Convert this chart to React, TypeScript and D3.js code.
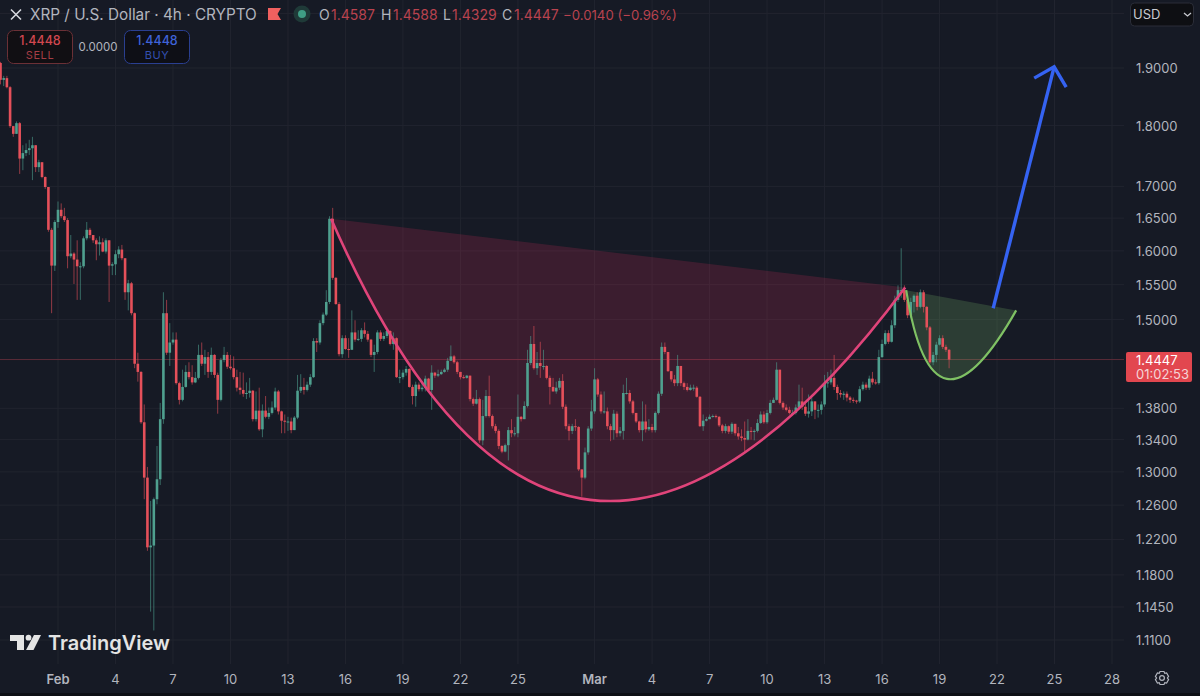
import React from "react";
import * as d3 from "d3";

// ---- OHLC data, 4h candles starting 29 Jan 00:00 UTC ----
const firstOpen = 1.909;
const closes = [
1.879,1.882,1.866,1.799,1.786,1.804,1.745,1.754,1.759,1.762,1.767,1.731,1.739,1.715,1.699,1.632,1.578,1.644,1.663,1.653,
1.647,1.592,1.596,1.587,1.577,1.577,1.619,1.632,1.624,1.616,1.610,1.613,1.599,1.616,1.578,1.580,1.595,1.602,1.589,1.539,
1.552,1.509,1.439,1.428,1.362,1.293,1.211,1.213,1.267,1.291,1.366,1.509,1.454,1.468,1.472,1.413,1.391,1.408,1.428,1.421,
1.414,1.420,1.451,1.439,1.448,1.428,1.451,1.424,1.391,1.444,1.451,1.435,1.433,1.421,1.407,1.404,1.399,1.400,1.403,1.366,
1.377,1.353,1.377,1.369,1.374,1.381,1.402,1.376,1.364,1.363,1.363,1.352,1.368,1.403,1.408,1.404,1.411,1.421,1.470,1.468,
1.495,1.507,1.525,1.649,1.560,1.522,1.452,1.474,1.459,1.458,1.482,1.472,1.473,1.485,1.480,1.472,1.451,1.455,1.482,1.473,
1.477,1.484,1.466,1.474,1.421,1.421,1.427,1.432,1.408,1.396,1.411,1.405,1.407,1.419,1.404,1.427,1.423,1.425,1.428,1.431,
1.443,1.449,1.441,1.428,1.421,1.420,1.423,1.392,1.386,1.392,1.339,1.370,1.396,1.370,1.357,1.351,1.332,1.325,1.333,1.352,
1.348,1.348,1.369,1.366,1.383,1.440,1.466,1.433,1.440,1.436,1.436,1.420,1.408,1.402,1.407,1.416,1.382,1.357,1.351,1.357,
1.356,1.303,1.293,1.324,1.354,1.376,1.418,1.398,1.376,1.376,1.357,1.352,1.373,1.348,1.351,1.400,1.400,1.389,1.374,1.363,
1.352,1.363,1.353,1.356,1.352,1.374,1.399,1.462,1.455,1.429,1.418,1.413,1.436,1.413,1.408,1.404,1.407,1.407,1.395,1.357,
1.364,1.366,1.369,1.370,1.369,1.358,1.351,1.357,1.350,1.360,1.348,1.344,1.342,1.340,1.351,1.350,1.351,1.361,1.372,1.362,
1.374,1.387,1.391,1.431,1.387,1.381,1.378,1.374,1.374,1.381,1.389,1.382,1.373,1.376,1.389,1.378,1.378,1.385,1.413,1.414,
1.420,1.408,1.400,1.398,1.399,1.394,1.391,1.390,1.389,1.405,1.411,1.407,1.419,1.414,1.413,1.448,1.466,1.481,1.469,1.492,
1.528,1.542,1.542,1.528,1.506,1.525,1.534,1.518,1.539,1.518,1.489,1.441,1.451,1.465,1.474,1.462,1.458,1.4447];
const highs = [
1.911,1.886,1.886,1.868,1.799,1.807,1.806,1.767,1.770,1.776,1.781,1.767,1.743,1.739,1.716,1.699,1.635,1.647,1.676,1.673,
1.666,1.650,1.624,1.598,1.616,1.583,1.622,1.644,1.635,1.624,1.619,1.622,1.619,1.619,1.616,1.583,1.601,1.607,1.609,1.589,
1.557,1.554,1.510,1.454,1.429,1.385,1.306,1.265,1.269,1.332,1.387,1.539,1.528,1.495,1.482,1.482,1.415,1.431,1.437,1.441,
1.437,1.428,1.465,1.468,1.458,1.455,1.461,1.452,1.427,1.447,1.462,1.455,1.451,1.449,1.431,1.428,1.427,1.414,1.420,1.404,
1.402,1.407,1.385,1.396,1.381,1.389,1.407,1.404,1.377,1.372,1.369,1.368,1.370,1.424,1.425,1.420,1.415,1.425,1.474,1.474,
1.499,1.510,1.542,1.653,1.666,1.561,1.525,1.478,1.478,1.474,1.513,1.499,1.485,1.488,1.496,1.484,1.473,1.465,1.485,1.485,
1.482,1.488,1.485,1.482,1.475,1.431,1.431,1.436,1.433,1.411,1.415,1.414,1.415,1.423,1.420,1.437,1.428,1.431,1.431,1.433,
1.447,1.464,1.451,1.443,1.428,1.424,1.424,1.423,1.394,1.404,1.394,1.391,1.404,1.423,1.372,1.360,1.353,1.333,1.335,1.356,
1.366,1.356,1.398,1.370,1.389,1.458,1.477,1.491,1.455,1.469,1.458,1.437,1.423,1.420,1.415,1.420,1.425,1.385,1.360,1.360,
1.366,1.357,1.303,1.330,1.357,1.391,1.433,1.420,1.402,1.402,1.381,1.360,1.378,1.376,1.356,1.411,1.420,1.404,1.391,1.374,
1.364,1.389,1.385,1.366,1.360,1.376,1.402,1.468,1.468,1.455,1.429,1.424,1.451,1.436,1.415,1.413,1.411,1.411,1.409,1.396,
1.372,1.369,1.372,1.372,1.372,1.370,1.360,1.360,1.358,1.362,1.360,1.356,1.353,1.363,1.366,1.356,1.353,1.366,1.376,1.376,
1.378,1.391,1.394,1.441,1.431,1.389,1.385,1.382,1.378,1.385,1.411,1.407,1.389,1.398,1.394,1.389,1.385,1.389,1.424,1.428,
1.431,1.451,1.411,1.404,1.402,1.402,1.396,1.394,1.391,1.409,1.415,1.414,1.423,1.428,1.418,1.458,1.472,1.485,1.485,1.499,
1.534,1.549,1.604,1.549,1.534,1.531,1.536,1.539,1.543,1.542,1.519,1.491,1.455,1.469,1.478,1.478,1.465,1.4588];
const lows = [
1.871,1.868,1.864,1.796,1.781,1.786,1.720,1.726,1.749,1.751,1.710,1.723,1.723,1.713,1.696,1.629,1.509,1.570,1.635,1.650,
1.644,1.574,1.589,1.551,1.528,1.528,1.574,1.616,1.619,1.612,1.586,1.593,1.598,1.596,1.525,1.564,1.564,1.589,1.586,1.528,
1.513,1.506,1.433,1.415,1.360,1.267,1.207,1.140,1.120,1.261,1.284,1.360,1.451,1.436,1.465,1.411,1.385,1.389,1.407,1.418,
1.411,1.413,1.418,1.436,1.424,1.420,1.424,1.420,1.373,1.389,1.441,1.432,1.431,1.418,1.402,1.398,1.395,1.392,1.394,1.363,
1.363,1.351,1.343,1.367,1.366,1.372,1.378,1.372,1.348,1.348,1.351,1.348,1.352,1.366,1.400,1.398,1.402,1.408,1.420,1.455,
1.465,1.492,1.505,1.522,1.557,1.521,1.449,1.447,1.458,1.447,1.458,1.469,1.470,1.469,1.475,1.469,1.448,1.428,1.452,1.470,
1.470,1.474,1.464,1.458,1.420,1.413,1.418,1.423,1.407,1.385,1.382,1.402,1.402,1.402,1.402,1.378,1.420,1.421,1.424,1.427,
1.428,1.443,1.439,1.425,1.418,1.419,1.419,1.389,1.383,1.385,1.336,1.333,1.368,1.368,1.354,1.348,1.328,1.323,1.324,1.314,
1.343,1.344,1.343,1.363,1.366,1.381,1.437,1.431,1.424,1.420,1.431,1.418,1.385,1.402,1.399,1.404,1.379,1.353,1.339,1.347,
1.351,1.301,1.270,1.291,1.321,1.351,1.373,1.395,1.373,1.373,1.353,1.338,1.340,1.343,1.344,1.340,1.398,1.386,1.372,1.361,
1.349,1.338,1.349,1.351,1.349,1.349,1.372,1.396,1.452,1.428,1.415,1.409,1.409,1.409,1.404,1.402,1.403,1.403,1.394,1.356,
1.351,1.363,1.366,1.368,1.367,1.356,1.348,1.348,1.347,1.347,1.345,1.340,1.338,1.325,1.339,1.340,1.339,1.349,1.360,1.360,
1.360,1.372,1.387,1.390,1.385,1.378,1.376,1.372,1.372,1.372,1.378,1.378,1.370,1.368,1.370,1.366,1.368,1.372,1.382,1.407,
1.411,1.404,1.391,1.394,1.391,1.389,1.387,1.387,1.386,1.387,1.403,1.404,1.404,1.411,1.411,1.411,1.447,1.464,1.466,1.468,
1.488,1.525,1.531,1.525,1.502,1.502,1.510,1.513,1.516,1.510,1.485,1.439,1.437,1.441,1.464,1.459,1.455,1.4329];

// ---- Axes ----
const priceTicks = [1.9, 1.8, 1.7, 1.65, 1.6, 1.55, 1.5, 1.38, 1.34, 1.3, 1.26, 1.22, 1.18, 1.145, 1.11];
const extraGridPrices = [2.0];
const dayTicks: [number, number, string, boolean][] = [
  [1, 1, "Feb", true], [1, 4, "4", false], [1, 7, "7", false], [1, 10, "10", false], [1, 13, "13", false],
  [1, 16, "16", false], [1, 19, "19", false], [1, 22, "22", false], [1, 25, "25", false],
  [2, 1, "Mar", true], [2, 4, "4", false], [2, 7, "7", false], [2, 10, "10", false], [2, 13, "13", false],
  [2, 16, "16", false], [2, 19, "19", false], [2, 22, "22", false], [2, 25, "25", false], [2, 28, "28", false],
];

// ---- Drawings: start, bezier control and end (days after 1 Feb, price) ----
const cupDays = [14.25, 26.3, 44.21];
const cupPrices = [1.649, 1.0042, 1.546];
const handleDays = [44.26, 45.64, 50.0];
const handlePrices = [1.542, 1.3176, 1.513];
const arrowDays = [48.80, 51.98];
const arrowPrices = [1.516, 1.902];
const arrowHeadDays = [50.94, 51.98, 52.61];
const arrowHeadPrices = [1.882, 1.902, 1.866];
const lastPrice = 1.4447;

const C = {
  bg: "#161a25", grid: "#21242f", text: "#b2b5be", up: "#4fa08f", down: "#e5505a",
  redText: "#b9434f", pink: "#e0447a", pinkFill: "#d42e5c", green: "#7fc164", greenFill: "#89ce75", blue: "#3563f2",
};
const FONT = "Inter, 'Noto Sans', sans-serif";

const feb1 = Date.UTC(2026, 1, 1);
const start = Date.UTC(2026, 0, 29);
const fromDay = (d: number) => new Date(feb1 + d * 864e5);

export default function App() {
  const x = d3.scaleUtc().domain([new Date(feb1), new Date(Date.UTC(2026, 2, 28))]).range([58, 1112]);
  const y = d3.scaleLog().domain([1.9, 1.11]).range([68, 640]);
  const candleW = 2.6;

  const arc = (days: number[], prices: number[]) => {
    const p = d3.path();
    p.moveTo(x(fromDay(days[0])), y(prices[0]));
    p.quadraticCurveTo(x(fromDay(days[1])), y(prices[1]), x(fromDay(days[2])), y(prices[2]));
    return p.toString();
  };
  const straight = (days: number[], prices: number[]) =>
    d3.line<number>().x(i => x(fromDay(days[i]))).y(i => y(prices[i]))(days.map((_, i) => i)) || "";

  const cup = arc(cupDays, cupPrices);
  const handle = arc(handleDays, handlePrices);

  const candles = closes.map((c, i) => {
    const o = i === 0 ? firstOpen : closes[i - 1];
    const cx = x(new Date(start + i * 4 * 36e5));
    const col = c >= o ? C.up : C.down;
    const top = y(Math.max(o, c));
    const bot = y(Math.min(o, c));
    return (
      <g key={i}>
        <line x1={cx} x2={cx} y1={y(highs[i])} y2={y(lows[i])} stroke={col} strokeWidth={1} strokeOpacity={0.6} />
        <rect x={cx - candleW / 2} y={top} width={candleW} height={Math.max(1, bot - top)} fill={col} />
      </g>
    );
  });

  return (
    <svg width={1200} height={696} viewBox="0 0 1200 696" style={{ position: "fixed", left: 0, top: 0, fontFamily: FONT }}>
      <rect width={1200} height={696} fill={C.bg} />
      <rect y={693} width={1200} height={3} fill="#0d0f15" />

      {/* grid */}
      {[...priceTicks, ...extraGridPrices].map(p => (
        <line key={p} x1={0} x2={1124} y1={y(p)} y2={y(p)} stroke={C.grid} strokeWidth={1} />
      ))}
      {dayTicks.map(([m, d, l]) => {
        const px = x(new Date(Date.UTC(2026, m, d)));
        return <line key={l + m} x1={px} x2={px} y1={0} y2={664} stroke={C.grid} strokeWidth={1} />;
      })}

      {/* price line */}
      <line x1={0} x2={1124} y1={y(lastPrice)} y2={y(lastPrice)} stroke="#5a2c38" strokeWidth={1} />

      {/* fills */}
      <path d={cup + "Z"} fill={C.pinkFill} fillOpacity={0.2} />
      <path d={handle + "Z"} fill={C.greenFill} fillOpacity={0.2} />

      {candles}

      {/* drawings */}
      <path d={cup} fill="none" stroke={C.pink} strokeWidth={2.6} />
      <path d={handle} fill="none" stroke={C.green} strokeWidth={2.2} />
      <path d={straight(arrowDays, arrowPrices)} fill="none" stroke={C.blue} strokeWidth={3.4} />
      <path d={straight(arrowHeadDays, arrowHeadPrices)} fill="none" stroke={C.blue} strokeWidth={3.4} />

      {/* price axis */}
      {priceTicks.map(p => (
        <text key={p} x={1136} y={y(p) + 5} fontSize={13} fill={C.text}>{p.toFixed(4)}</text>
      ))}
      <rect x={1126} y={352} width={66} height={30} rx={2} fill="#e2474f" />
      <text x={1136} y={365} fontSize={13} fill="#ffffff">{lastPrice.toFixed(4)}</text>
      <text x={1136} y={379} fontSize={13} fill="#f5d5d7">01:02:53</text>

      {/* time axis */}
      {dayTicks.map(([m, d, l, bold]) => (
        <text key={l + m} x={x(new Date(Date.UTC(2026, m, d)))} y={684} textAnchor="middle" fontSize={13}
          fontWeight={bold ? 600 : 400} fill={C.text}>{l}</text>
      ))}
      <g transform="translate(1162,678)" fill="none" stroke={C.text} strokeWidth={1.2}>
        <circle r={2.4} />
        <path d="M-2 -6.5 H2 L2.8 -4.6 L4.6 -5 L6.6 -1.6 L5.4 0 L6.6 1.6 L4.6 5 L2.8 4.6 L2 6.5 H-2 L-2.8 4.6 L-4.6 5 L-6.6 1.6 L-5.4 0 L-6.6 -1.6 L-4.6 -5 L-2.8 -4.6 Z" />
      </g>

      {/* header */}
      <path d="M11 9.5 L21 19.5 M21 9.5 L11 19.5" stroke="#d5d7de" strokeWidth={1.6} />
      <text x={30} y={20} fontSize={15.3} fill={C.text}>XRP / U.S. Dollar · 4h · CRYPTO</text>
      <path d="M268 8 H281 L277.5 14 L281 20 H268 Z" fill="#f0605f" />
      <circle cx={302} cy={14} r={8.5} fill="#1f3a38" />
      <circle cx={302} cy={14} r={4} fill="#3f9e85" />
      <text y={20} fontSize={14} fontWeight={400}>
        <tspan x={319} fill={C.text}>O</tspan><tspan x={331} fill={C.redText}>1.4587</tspan>
        <tspan x={381} fill={C.text}>H</tspan><tspan x={393} fill={C.redText}>1.4588</tspan>
        <tspan x={443} fill={C.text}>L</tspan><tspan x={452} fill={C.redText}>1.4329</tspan>
        <tspan x={502} fill={C.text}>C</tspan><tspan x={514} fill={C.redText}>1.4447</tspan>
        <tspan x={563} fontSize={13.2} fill={C.redText}>−0.0140 (−0.96%)</tspan>
      </text>

      {/* sell / buy */}
      <rect x={7.5} y={30.5} width={65} height={33} rx={6} fill="#110f13" stroke="#6b3036" />
      <text x={40} y={45} textAnchor="middle" fontSize={12.5} fontWeight={500} fill="#d0474f">1.4448</text>
      <text x={40} y={59} textAnchor="middle" fontSize={11} letterSpacing={0.6} fill="#a53d45">SELL</text>
      <text x={98} y={51} textAnchor="middle" fontSize={11.5} fill={C.text}>0.0000</text>
      <rect x={124.5} y={30.5} width={65} height={33} rx={6} fill="#0e0f16" stroke="#2a3f90" />
      <text x={157} y={45} textAnchor="middle" fontSize={12.5} fontWeight={500} fill="#3f63d8">1.4448</text>
      <text x={157} y={59} textAnchor="middle" fontSize={11} letterSpacing={0.6} fill="#3350b0">BUY</text>

      {/* currency */}
      <rect x={1130.5} y={3} width={63} height={23} rx={4} fill="#0e0f13" stroke="#2a2d38" />
      <text x={1133} y={19} fontSize={13} fill="#c8cad0">USD</text>
      <path d="M1184 13 L1187.5 16 L1191 13" fill="none" stroke="#c8cad0" strokeWidth={1.3} />

      {/* logo */}
      <g fill="#e4e4e4">
        <path d="M10 635 H24 V650 H17 V641 H10 Z" />
        <circle cx={28.5} cy={637.7} r={2.9} />
        <path d="M34 635 H41 L33.5 650 H26 Z" />
        <text x={48} y={650} fontSize={20} fontWeight={600}>TradingView</text>
      </g>
    </svg>
  );
}
